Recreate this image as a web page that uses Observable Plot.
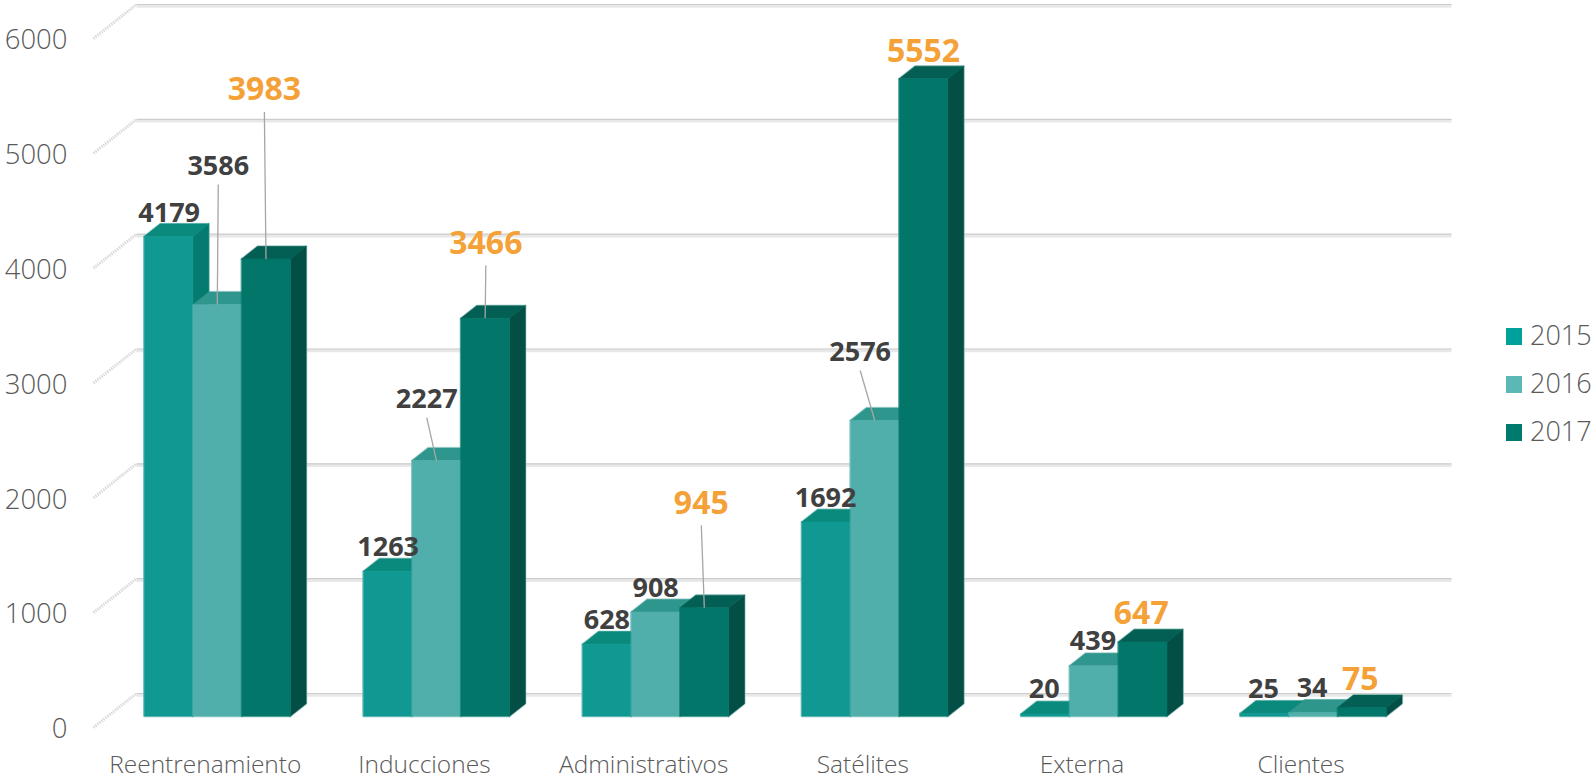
<!DOCTYPE html>
<html>
<head>
<meta charset="utf-8">
<script src="https://cdn.jsdelivr.net/npm/d3@7"></script>
<script src="https://cdn.jsdelivr.net/npm/@observablehq/plot@0.6"></script>
<style>
html,body{margin:0;padding:0;background:#fff;overflow:hidden}
#wrap{position:relative;width:1596px;height:779px}
.lg{position:absolute;left:1506px;font:300 27px "Open Sans",sans-serif;color:#595959;height:24px;line-height:19px;white-space:nowrap}
.lg i{position:absolute;left:0;top:3px;display:block;width:16px;height:17px}
.lg span{position:absolute;left:24px;top:0}
</style>
</head>
<body>
<div id="wrap"></div>
<script>
const categories = ["Reentrenamiento","Inducciones","Administrativos","Satélites","Externa","Clientes"];
const years = ["2015","2016","2017"];
const v2015 = [4179,1263,628,1692,20,25];
const v2016 = [3586,2227,908,2576,439,34];
const v2017 = [3983,3466,945,5552,647,75];
const yTicks = [0,1000,2000,3000,4000,5000,6000];

// styling
const frontColor = ["#109892","#50AFAB","#03766A"];
const topColor   = ["#0A8A7C","#2E968C","#035F53"];
const sideColor  = ["#057A6E","#1E8379","#034E45"];
const legendColor= ["#00A19A","#5BB8B4","#007A6C"];
// label displacement from the bar's top, in pixels
const shift2015 = [[0.6,-23],[0.4,-24],[0,-24],[-0.5,-24],[-1,-25],[-1,-24]];
const shift2016 = [[1,-138],[-9.7,-61],[0,-24],[-14.6,-68],[-1,-25],[-1,-24]];
const shift2017 = [[-1.6,-169],[0.7,-75],[-3,-104.5],[0,-26.5],[-1.4,-28],[-1.6,-28]];
const leaders = [[1,0],[2,0],[1,1],[2,1],[2,2],[1,3]]; // [series, category]

const W=1596,H=779,mL=93,mR=188,mT=38,mB=52;
const pxCat=(W-mL-mR)/6, pxVal=(H-mT-mB)/6000;
const wallX=43/pxCat, wallY=34/pxVal;        // full floor depth in data units
const D0=0.33, D1=0.70;
const P=(c,v,d)=>({x:c+d*wallX,y:v+d*wallY});
const barW=2/9, barStart=1/6;
const series=[v2015,v2016,v2017], shifts=[shift2015,shift2016,shift2017];

const polys=[]; let id=0;
function poly(pts,fill){id++;pts.forEach(p=>polys.push({id,x:p.x,y:p.y,fill}));}
categories.forEach((_,i)=>{
  series.forEach((vals,j)=>{
    const v=vals[i], a=i+barStart+j*barW, b=a+barW;
    poly([P(b,0,D0),P(b,0,D1),P(b,v,D1),P(b,v,D0)],sideColor[j]);
    poly([P(a,v,D0),P(a,v,D1),P(b,v,D1),P(b,v,D0)],topColor[j]);
    poly([P(a,0,D0),P(b,0,D0),P(b,v,D0),P(a,v,D0)],frontColor[j]);
  });
});
const center=(i,j,v)=>P(i+barStart+(j+.5)*barW,v,D0);
const labels=[];
series.forEach((vals,j)=>vals.forEach((v,i)=>{
  const c=center(i,j,v),s=shifts[j][i];
  labels.push({x:c.x+s[0]/pxCat,y:c.y-s[1]/pxVal,t:String(v),j});
}));
const links=leaders.map(([j,i])=>{
  const v=series[j][i],c=center(i,j,v),s=shifts[j][i],gap=j===2?22:18;
  return {x1:c.x+s[0]/pxCat,y1:c.y-(s[1]+gap)/pxVal,x2:c.x,y2:c.y};
});
const wall=[];
yTicks.forEach(t=>{wall.push({t,a:P(0,t,0),b:P(0,t,1),c:P(6,t,1)});});

const chart=Plot.plot({
  width:W,height:H,marginLeft:mL,marginRight:mR,marginTop:mT,marginBottom:mB,
  style:{background:"#fff",fontFamily:"'Open Sans',sans-serif",overflow:"visible"},
  x:{domain:[0,6],axis:null},
  y:{domain:[0,6000],axis:null},
  color:{type:"identity"},
  marks:[
    Plot.link(wall,{x1:d=>d.b.x,y1:d=>d.b.y,x2:d=>d.c.x,y2:d=>d.c.y,stroke:"#e8e8e8",strokeWidth:3.5,dy:1.5}),
    Plot.link(wall,{x1:d=>d.b.x,y1:d=>d.b.y,x2:d=>d.c.x,y2:d=>d.c.y,stroke:"#cdcdcd",strokeWidth:1.1}),
    Plot.link(wall,{x1:d=>d.a.x,y1:d=>d.a.y,x2:d=>d.b.x,y2:d=>d.b.y,stroke:"#dadada",strokeWidth:3,strokeDasharray:"1.5 1"}),
    Plot.line(polys,{x:"x",y:"y",z:"id",stroke:"#a8d4d1",strokeOpacity:0.7,strokeWidth:2.2,curve:"linear-closed"}),
    Plot.line(polys,{x:"x",y:"y",z:"id",fill:"fill",stroke:"fill",strokeWidth:0.6,curve:"linear-closed"}),
    Plot.link(links,{x1:"x1",y1:"y1",x2:"x2",y2:"y2",stroke:"#a6a6a6",strokeWidth:1.3}),
    Plot.text(labels.filter(d=>d.j<2),{x:"x",y:"y",text:"t",fill:"#404040",fontSize:27,fontWeight:700,lineAnchor:"middle"}),
    Plot.text(labels.filter(d=>d.j===2),{x:"x",y:"y",text:"t",fill:"#F4A137",fontSize:32,fontWeight:700,lineAnchor:"middle"}),
    Plot.axisY(yTicks,{tickSize:0,tickPadding:26,fontSize:27.5,fontWeight:300,fill:"#595959",dy:2,tickFormat:d=>String(d),label:null}),
    Plot.axisX(categories.map((_,i)=>i+0.51),{tickSize:0,tickPadding:28,fontSize:24.5,fontWeight:300,fill:"#595959",tickFormat:d=>categories[Math.floor(d)],label:null})
  ]
});
const wrap=document.getElementById("wrap");
wrap.appendChild(chart);
years.forEach((y,j)=>{
  const d=document.createElement("div");
  d.className="lg";
  d.style.top=(325+48*j)+"px";
  d.innerHTML=`<i style="background:${legendColor[j]}"></i><span>${y}</span>`;
  wrap.appendChild(d);
});
</script>
</body>
</html>
